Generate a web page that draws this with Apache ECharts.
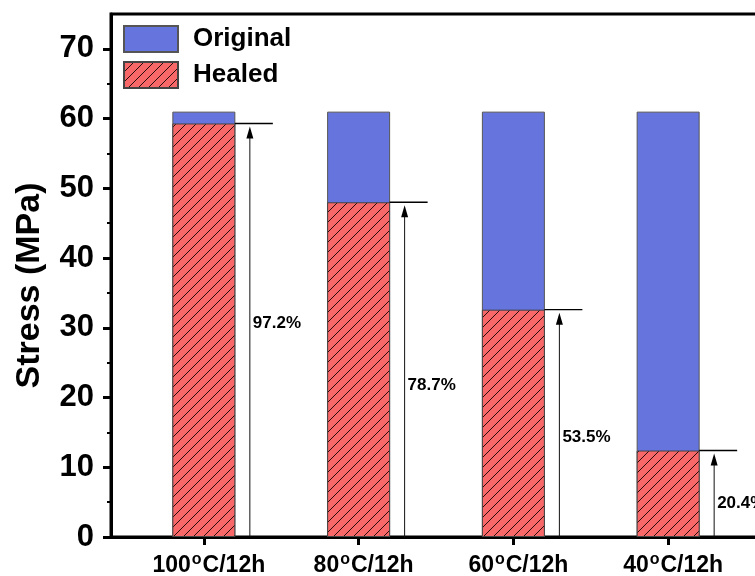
<!DOCTYPE html>
<html>
<head>
<meta charset="utf-8">
<script src="https://cdn.jsdelivr.net/npm/echarts@6/dist/echarts.min.js"></script>
<style>html,body{margin:0;padding:0;background:#fff}#c{width:755px;height:576px}</style>
</head>
<body>
<div id="c"></div>
<script>
// ---- data ----
const categories = ['100', '80', '60', '40'];          // healing temperature (°C), 12 h
const positions = [1, 2, 3, 4];
const original = [61.0, 61.0, 61.0, 61.0];
const healed = [59.3, 48.0, 32.6, 12.4];
const recovery = ['97.2%', '78.7%', '53.5%', '20.4%'];
const recoveryLabelAt = [30.7, 21.8, 14.3, 4.9];
const yTicks = [0, 10, 20, 30, 40, 50, 60, 70];
const yMinorTicks = [5, 15, 25, 35, 45, 55, 65];

// ---- hatch pattern ----
function hatch(bg) {
  const s = 10;
  const cv = document.createElement('canvas');
  cv.width = s; cv.height = s;
  const g = cv.getContext('2d');
  g.fillStyle = bg; g.fillRect(0, 0, s, s);
  g.strokeStyle = '#2a0c0c'; g.lineWidth = 1;
  g.beginPath();
  g.moveTo(-1, s + 1); g.lineTo(s + 1, -1);
  g.moveTo(-1, 1); g.lineTo(1, -1);
  g.moveTo(s - 1, s + 1); g.lineTo(s + 1, s - 1);
  g.stroke();
  return { image: cv, repeat: 'repeat' };
}

const FONT = 'Liberation Sans, Arial, sans-serif';
const chart = echarts.init(document.getElementById('c'), null, { renderer: 'canvas' });

const annData = positions.map((p, i) => [p, healed[i], recoveryLabelAt[i], recovery[i]]);

chart.setOption({
  animation: false,
  backgroundColor: '#fff',
  grid: { left: 111, top: 14, width: 650, height: 523, outerBoundsMode: 'none', containLabel: false, show: true, borderColor: '#000', borderWidth: 3, backgroundColor: 'transparent' },
  legend: {
    left: 123, top: 25, orient: 'vertical', itemWidth: 54, itemHeight: 26, itemGap: 8, padding: 0,
    icon: 'rect',
    textStyle: { fontFamily: FONT, fontWeight: 'bold', fontSize: 26, color: '#000', padding: [0, 0, 0, 10] },
    data: ['Original', 'Healed']
  },
  xAxis: {
    type: 'value', min: 0.4, max: 4.6,
    splitLine: { show: false },
    axisLine: { show: true, onZero: false, lineStyle: { color: '#000', width: 3 } },
    axisTick: { show: true, customValues: positions, length: 8, lineStyle: { color: '#000', width: 3 } },
    axisLabel: {
      customValues: positions, margin: 16, padding: [0, 0, 0, 10],
      formatter: v => { const i = positions.indexOf(v); return i < 0 ? '' : '{n|' + categories[i] + '}{s|o}{n|C/12h}'; },
      rich: {
        n: { fontFamily: FONT, fontWeight: 'bold', fontSize: 23, color: '#000', lineHeight: 26 },
        s: { fontFamily: FONT, fontWeight: 'bold', fontSize: 16, color: '#000', verticalAlign: 'top', height: 14, lineHeight: 14, padding: [0, 1, 0, 1] }
      }
    }
  },
  yAxis: [{
    type: 'value', min: 0, max: 75,
    name: 'Stress (MPa)', nameLocation: 'middle', nameGap: 64,
    nameTextStyle: { fontFamily: FONT, fontWeight: 'bold', fontSize: 34, color: '#000', padding: [0, 20, 0, 0] },
    splitLine: { show: false },
    axisLine: { show: true, lineStyle: { color: '#000', width: 3 } },
    axisTick: { show: true, customValues: yTicks, length: 8, lineStyle: { color: '#000', width: 3 } },
    axisLabel: { customValues: yTicks, margin: 17, fontFamily: FONT, fontWeight: 'bold', fontSize: 31, color: '#000' }
  }, {
    type: 'value', min: 0, max: 75, position: 'left',
    splitLine: { show: false },
    axisLine: { show: false },
    axisTick: { show: true, customValues: yMinorTicks, length: 4, lineStyle: { color: '#000', width: 2 } },
    axisLabel: { show: false }
  }],
  series: [{
    name: 'Original', type: 'bar', barWidth: 63, barGap: '-100%',
    itemStyle: { color: '#6674de', borderColor: '#555', borderWidth: 1 },
    data: positions.map((p, i) => [p, original[i]])
  }, {
    name: 'Healed', type: 'bar', barWidth: 63, barGap: '-100%',
    itemStyle: { color: hatch('#f86868'), borderColor: '#444', borderWidth: 1 },
    data: positions.map((p, i) => [p, healed[i]])
  }, {
    name: 'ann', type: 'custom', clip: false, silent: true, z: 5,
    data: annData,
    renderItem: (params, api) => {
      const x = api.value(0);
      const top = api.coord([x, api.value(1)]);
      const base = api.coord([x, 0]);
      const lab = api.coord([x, api.value(2)]);
      const ax = top[0] + 46;
      return {
        type: 'group',
        children: [
          { type: 'line', shape: { x1: top[0] + 31, y1: top[1], x2: top[0] + 69, y2: top[1] }, style: { stroke: '#000', lineWidth: 1.4 } },
          { type: 'line', shape: { x1: ax, y1: base[1], x2: ax, y2: top[1] + 12 }, style: { stroke: '#111', lineWidth: 1 } },
          { type: 'polygon', shape: { points: [[ax, top[1] + 3], [ax - 3.5, top[1] + 15], [ax + 3.5, top[1] + 15]] }, style: { fill: '#000' } },
          { type: 'text', x: ax + 3, y: lab[1], style: { text: api.value(3), font: 'bold 17px ' + FONT, fill: '#000', verticalAlign: 'middle', align: 'left' } }
        ]
      };
    }
  }]
});
</script>
</body>
</html>
